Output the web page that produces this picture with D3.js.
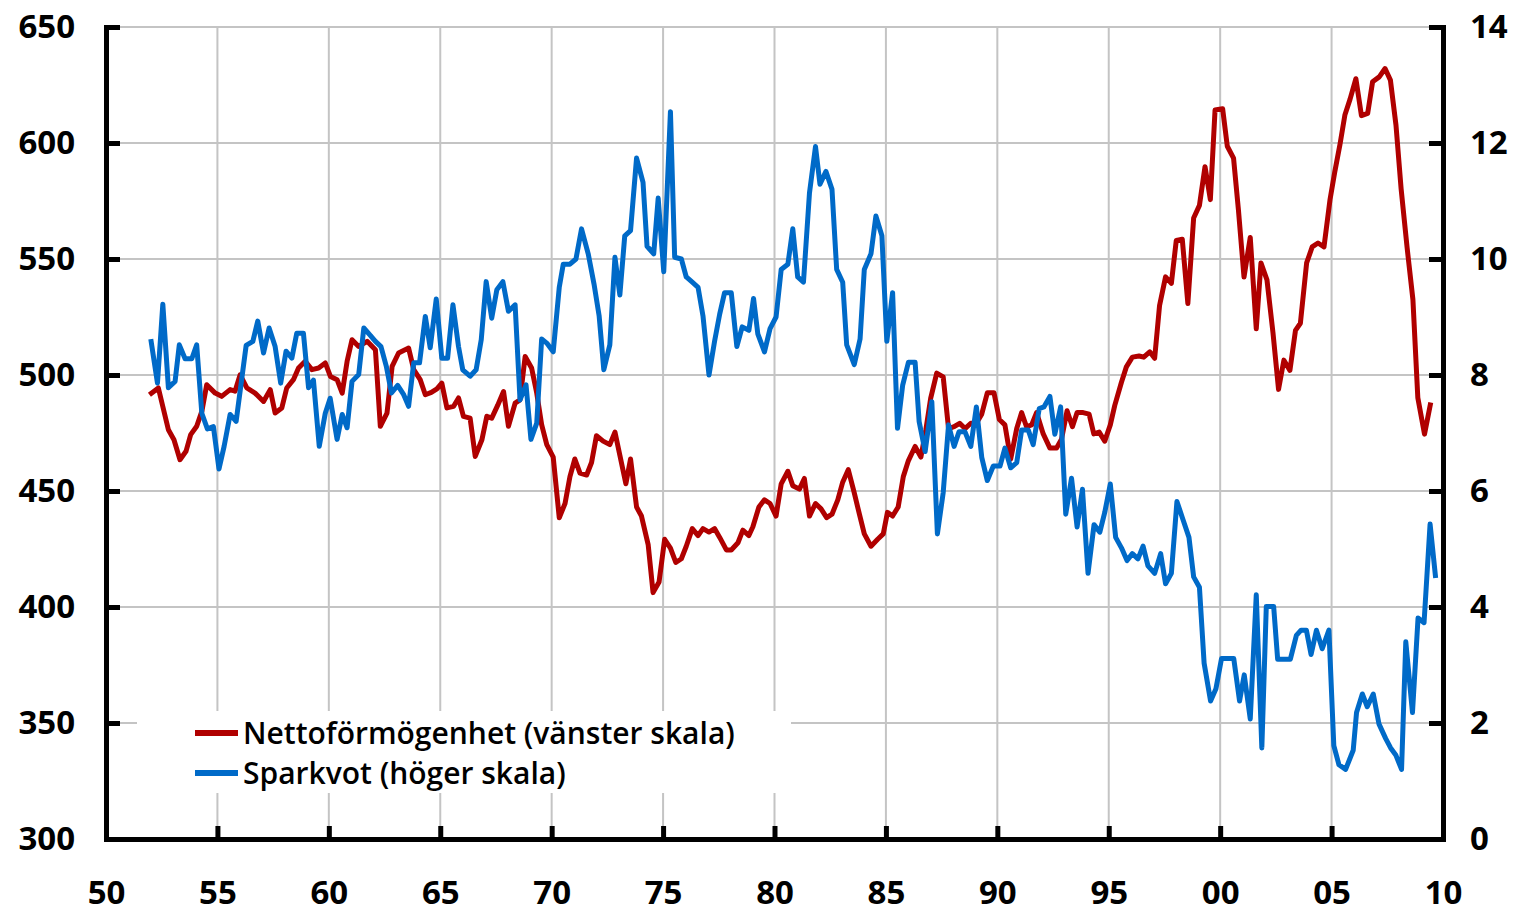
<!DOCTYPE html>
<html>
<head>
<meta charset="utf-8">
<script src="https://cdn.jsdelivr.net/npm/d3@7"></script>
<style>
  body { margin: 0; background: #fff; }
  svg text { font-family: "Open Sans", sans-serif; font-weight: 600; fill: #000; }
</style>
</head>
<body>
<svg id="chart" width="1516" height="911"></svg>
<script>
// Nettoförmögenhet, vänster skala: [år, värde]
var nettoformogenhet = [
  [1951.95, 491.5], [1952.35, 494.4], [1952.80, 476.4], [1953.05, 472.1], [1953.32, 463.5],
  [1953.59, 467.1], [1953.80, 474.3], [1954.07, 477.9], [1954.30, 484.3], [1954.52, 495.8],
  [1954.90, 492.2], [1955.19, 490.8], [1955.57, 493.7], [1955.79, 493.0], [1956.02, 500.1],
  [1956.32, 494.4], [1956.69, 492.2], [1957.07, 488.6], [1957.37, 493.7], [1957.59, 483.6],
  [1957.89, 485.8], [1958.11, 494.4], [1958.41, 498.0], [1958.64, 503.0], [1958.94, 505.9],
  [1959.24, 502.3], [1959.54, 503.0], [1959.84, 505.2], [1960.07, 499.4], [1960.37, 498.0],
  [1960.60, 492.2], [1960.82, 505.9], [1961.04, 515.2], [1961.34, 512.3], [1961.72, 514.5],
  [1962.09, 510.9], [1962.31, 477.9], [1962.61, 483.6], [1962.84, 503.7], [1963.13, 509.5],
  [1963.58, 511.6], [1963.81, 502.3], [1964.10, 498.0], [1964.33, 491.5], [1964.60, 492.5],
  [1964.85, 494.0], [1965.07, 496.5], [1965.30, 485.8], [1965.60, 486.5], [1965.82, 490.1],
  [1966.04, 482.2], [1966.34, 481.4], [1966.57, 464.9], [1966.87, 472.1], [1967.09, 482.2],
  [1967.31, 481.4], [1967.58, 487.0], [1967.84, 492.9], [1968.06, 477.9], [1968.36, 487.9],
  [1968.58, 489.3], [1968.81, 508.0], [1969.10, 503.0], [1969.33, 492.2], [1969.55, 478.6],
  [1969.78, 470.0], [1970.07, 464.6], [1970.34, 438.5], [1970.60, 444.6], [1970.82, 456.2],
  [1971.04, 463.8], [1971.27, 457.7], [1971.57, 456.9], [1971.79, 462.3], [1972.01, 473.8],
  [1972.31, 471.5], [1972.61, 470.0], [1972.84, 475.4], [1973.06, 465.4], [1973.33, 453.1],
  [1973.54, 463.8], [1973.81, 443.1], [1974.03, 439.2], [1974.33, 426.9], [1974.55, 406.2],
  [1974.82, 410.8], [1975.07, 429.2], [1975.33, 425.4], [1975.57, 419.2], [1975.82, 420.8],
  [1976.04, 426.2], [1976.31, 433.8], [1976.57, 430.8], [1976.79, 433.8], [1977.06, 432.3],
  [1977.31, 433.8], [1977.54, 430.0], [1977.84, 424.6], [1978.06, 424.6], [1978.36, 427.7],
  [1978.58, 433.1], [1978.85, 430.8], [1979.03, 434.6], [1979.30, 443.1], [1979.55, 446.2],
  [1979.80, 444.6], [1980.07, 439.2], [1980.30, 453.1], [1980.60, 458.5], [1980.82, 452.3],
  [1981.12, 450.8], [1981.34, 455.4], [1981.57, 439.2], [1981.84, 444.6], [1982.09, 442.3],
  [1982.34, 438.5], [1982.58, 440.0], [1982.84, 446.2], [1983.06, 453.8], [1983.31, 459.2],
  [1983.58, 449.2], [1983.81, 440.0], [1984.03, 431.5], [1984.33, 426.2], [1984.63, 429.2],
  [1984.88, 431.5], [1985.07, 440.8], [1985.30, 439.2], [1985.55, 443.1], [1985.78, 456.2],
  [1986.01, 463.1], [1986.31, 469.2], [1986.57, 464.6], [1986.79, 476.2], [1987.01, 490.0],
  [1987.28, 500.8], [1987.57, 499.2], [1987.81, 476.9], [1988.06, 477.7], [1988.31, 479.2],
  [1988.55, 476.9], [1988.81, 479.2], [1989.06, 479.2], [1989.30, 483.1], [1989.55, 492.3],
  [1989.85, 492.3], [1990.09, 480.8], [1990.34, 478.5], [1990.60, 463.8], [1990.87, 476.9],
  [1991.09, 483.8], [1991.31, 477.7], [1991.54, 478.5], [1991.76, 483.8], [1992.06, 474.6],
  [1992.36, 468.5], [1992.66, 468.5], [1992.88, 472.3], [1993.13, 484.6], [1993.37, 477.7],
  [1993.58, 483.8], [1993.85, 483.8], [1994.12, 483.1], [1994.33, 474.6], [1994.57, 475.4],
  [1994.82, 471.5], [1995.07, 478.5], [1995.27, 486.9], [1995.57, 496.9], [1995.79, 503.5],
  [1996.06, 507.7], [1996.36, 508.2], [1996.57, 507.7], [1996.84, 510.0], [1997.06, 507.2],
  [1997.28, 530.0], [1997.55, 542.3], [1997.81, 539.5], [1998.03, 558.0], [1998.30, 558.5],
  [1998.55, 530.8], [1998.81, 567.7], [1999.07, 573.1], [1999.32, 589.8], [1999.56, 575.6],
  [1999.77, 614.2], [2000.11, 614.8], [2000.32, 598.6], [2000.60, 593.5], [2000.82, 571.1],
  [2001.07, 542.2], [2001.35, 559.3], [2001.62, 519.9], [2001.83, 548.3], [2002.10, 541.0],
  [2002.37, 518.2], [2002.62, 493.8], [2002.86, 506.4], [2003.13, 502.0], [2003.38, 519.2],
  [2003.60, 522.3], [2003.88, 548.3], [2004.13, 555.2], [2004.39, 556.9], [2004.66, 555.2],
  [2004.93, 575.6], [2005.14, 587.4], [2005.38, 599.6], [2005.60, 612.2], [2005.83, 618.9],
  [2006.09, 627.7], [2006.34, 611.8], [2006.62, 612.8], [2006.84, 626.4], [2007.14, 628.5],
  [2007.40, 632.1], [2007.64, 627.1], [2007.89, 607.7], [2008.12, 580.3], [2008.39, 554.8],
  [2008.65, 532.5], [2008.87, 490.2], [2009.17, 474.5], [2009.45, 488.1]
];

// Sparkvot, höger skala: [år, procent]
var sparkvot = [
  [1952.01, 8.62], [1952.31, 7.86], [1952.55, 9.22], [1952.80, 7.78], [1953.10, 7.89],
  [1953.29, 8.52], [1953.55, 8.28], [1953.85, 8.28], [1954.07, 8.52], [1954.30, 7.34],
  [1954.55, 7.07], [1954.82, 7.11], [1955.07, 6.38], [1955.30, 6.77], [1955.57, 7.32],
  [1955.84, 7.20], [1956.29, 8.51], [1956.59, 8.58], [1956.81, 8.93], [1957.07, 8.38],
  [1957.32, 8.81], [1957.59, 8.49], [1957.84, 7.86], [1958.08, 8.41], [1958.34, 8.29],
  [1958.56, 8.72], [1958.86, 8.72], [1959.09, 7.78], [1959.31, 7.91], [1959.57, 6.77],
  [1959.84, 7.34], [1960.06, 7.60], [1960.37, 6.89], [1960.60, 7.32], [1960.82, 7.09],
  [1961.04, 7.89], [1961.34, 8.01], [1961.57, 8.81], [1961.87, 8.68], [1962.09, 8.58],
  [1962.34, 8.49], [1962.58, 8.15], [1962.81, 7.69], [1963.09, 7.82], [1963.36, 7.66],
  [1963.58, 7.46], [1963.81, 8.21], [1964.07, 8.21], [1964.33, 9.01], [1964.55, 8.47],
  [1964.82, 9.31], [1965.07, 8.29], [1965.33, 8.29], [1965.57, 9.21], [1965.82, 8.49],
  [1966.01, 8.09], [1966.34, 7.98], [1966.61, 8.09], [1966.84, 8.61], [1967.06, 9.61],
  [1967.31, 8.98], [1967.54, 9.47], [1967.81, 9.61], [1968.06, 9.10], [1968.36, 9.21],
  [1968.58, 7.57], [1968.85, 7.83], [1969.07, 6.89], [1969.33, 7.17], [1969.55, 8.62],
  [1969.78, 8.55], [1970.07, 8.40], [1970.34, 9.51], [1970.52, 9.91], [1970.82, 9.91],
  [1971.09, 10.00], [1971.34, 10.52], [1971.64, 10.09], [1971.90, 9.57], [1972.13, 9.02],
  [1972.34, 8.09], [1972.61, 8.52], [1972.84, 10.03], [1973.06, 9.38], [1973.28, 10.40],
  [1973.54, 10.49], [1973.81, 11.74], [1974.10, 11.32], [1974.28, 10.22], [1974.58, 10.09],
  [1974.78, 11.05], [1975.03, 9.78], [1975.33, 12.54], [1975.52, 10.03], [1975.82, 10.00],
  [1976.04, 9.69], [1976.31, 9.60], [1976.57, 9.51], [1976.79, 9.02], [1977.06, 8.00],
  [1977.31, 8.58], [1977.54, 9.05], [1977.76, 9.42], [1978.06, 9.42], [1978.31, 8.49],
  [1978.55, 8.83], [1978.85, 8.77], [1979.06, 9.32], [1979.25, 8.71], [1979.55, 8.40],
  [1979.80, 8.80], [1980.07, 9.00], [1980.30, 9.82], [1980.60, 9.91], [1980.82, 10.52],
  [1981.04, 9.69], [1981.30, 9.60], [1981.57, 11.14], [1981.84, 11.94], [1982.04, 11.29],
  [1982.31, 11.51], [1982.58, 11.20], [1982.79, 9.82], [1983.06, 9.60], [1983.24, 8.52],
  [1983.58, 8.18], [1983.84, 8.62], [1984.03, 9.82], [1984.33, 10.09], [1984.55, 10.74],
  [1984.82, 10.40], [1985.04, 8.58], [1985.30, 9.42], [1985.52, 7.08], [1985.75, 7.82],
  [1986.01, 8.22], [1986.31, 8.22], [1986.49, 7.20], [1986.76, 6.68], [1987.06, 7.54],
  [1987.31, 5.26], [1987.57, 5.97], [1987.81, 7.14], [1988.06, 6.77], [1988.28, 7.02],
  [1988.55, 7.02], [1988.81, 6.77], [1989.06, 7.45], [1989.30, 6.58], [1989.55, 6.18],
  [1989.82, 6.43], [1990.12, 6.43], [1990.34, 6.74], [1990.60, 6.40], [1990.87, 6.49],
  [1991.09, 7.05], [1991.39, 7.05], [1991.61, 6.80], [1991.88, 7.42], [1992.09, 7.45],
  [1992.36, 7.63], [1992.58, 6.98], [1992.84, 7.45], [1993.07, 5.60], [1993.33, 6.22],
  [1993.58, 5.38], [1993.82, 6.03], [1994.07, 4.58], [1994.34, 5.42], [1994.60, 5.29],
  [1994.82, 5.63], [1995.07, 6.12], [1995.31, 5.20], [1995.57, 5.02], [1995.82, 4.80],
  [1996.06, 4.92], [1996.31, 4.83], [1996.54, 5.05], [1996.76, 4.71], [1997.06, 4.58],
  [1997.33, 4.92], [1997.55, 4.40], [1997.81, 4.58], [1998.06, 5.82], [1998.33, 5.51],
  [1998.60, 5.20], [1998.81, 4.52], [1999.07, 4.34], [1999.28, 3.03], [1999.57, 2.38],
  [1999.81, 2.59], [2000.06, 3.11], [2000.61, 3.11], [2000.87, 2.38], [2001.08, 2.83],
  [2001.35, 2.07], [2001.62, 4.21], [2001.87, 1.57], [2002.07, 4.01], [2002.40, 4.01],
  [2002.58, 3.10], [2003.15, 3.10], [2003.42, 3.51], [2003.63, 3.60], [2003.87, 3.60],
  [2004.08, 3.18], [2004.32, 3.60], [2004.58, 3.28], [2004.88, 3.60], [2005.10, 1.61],
  [2005.33, 1.28], [2005.63, 1.20], [2005.97, 1.53], [2006.12, 2.18], [2006.38, 2.50],
  [2006.60, 2.28], [2006.87, 2.50], [2007.13, 1.98], [2007.43, 1.73], [2007.65, 1.57],
  [2007.88, 1.45], [2008.14, 1.20], [2008.33, 3.40], [2008.63, 2.18], [2008.88, 3.81],
  [2009.15, 3.73], [2009.42, 5.43], [2009.67, 4.50]
];

var yearTicks = d3.range(1950, 2011, 5);
var leftTicks = d3.range(300, 651, 50);
var rightTicks = d3.range(0, 15, 2);
var legendItems = [
  { label: "Nettoförmögenhet (vänster skala)", color: "#b00000" },
  { label: "Sparkvot (höger skala)", color: "#006ac8" }
];

var svg = d3.select("#chart");
var plot = { left: 106, right: 1443, top: 27, bottom: 839 };

var x = d3.scaleLinear().domain([1950, 2010]).range([plot.left, plot.right]);
var yL = d3.scaleLinear().domain([300, 650]).range([plot.bottom, plot.top]);
var yR = d3.scaleLinear().domain([0, 14]).range([plot.bottom, plot.top]);

// rutnät
var grid = svg.append("g").attr("stroke", "#c4c4c4").attr("stroke-width", 2);
grid.selectAll("line.h")
  .data(leftTicks.filter(function (d) { return d > 300; }))
  .enter().append("line")
  .attr("x1", plot.left).attr("x2", plot.right)
  .attr("y1", function (d) { return yL(d); })
  .attr("y2", function (d) { return yL(d); });
grid.selectAll("line.v")
  .data(yearTicks.filter(function (d) { return d > 1950 && d < 2010; }))
  .enter().append("line")
  .attr("y1", plot.top).attr("y2", plot.bottom)
  .attr("x1", function (d) { return x(d); })
  .attr("x2", function (d) { return x(d); });

// legendens vita ruta döljer rutnätet
svg.append("rect")
  .attr("x", 137).attr("y", 711)
  .attr("width", 654).attr("height", 82)
  .attr("fill", "#fff");

var line = function (scale) {
  return d3.line()
    .x(function (d) { return x(d[0]); })
    .y(function (d) { return scale(d[1]); });
};

svg.append("path")
  .datum(nettoformogenhet)
  .attr("fill", "none")
  .attr("stroke", legendItems[0].color)
  .attr("stroke-width", 5)
  .attr("stroke-linejoin", "round")
  .attr("d", line(yL));

svg.append("path")
  .datum(sparkvot)
  .attr("fill", "none")
  .attr("stroke", legendItems[1].color)
  .attr("stroke-width", 5)
  .attr("stroke-linejoin", "round")
  .attr("d", line(yR));

// axlar
function styleAxis(g) {
  g.selectAll("path, line").attr("stroke", "#000").attr("stroke-width", 5);
  g.select(".domain").attr("stroke-linecap", "square");
  g.selectAll("text").attr("font-size", 33).attr("fill", "#000").style("font-weight", 700);
  g.attr("font-family", null);
}

svg.append("g")
  .attr("transform", "translate(" + plot.left + ",0)")
  .call(d3.axisLeft(yL).tickValues(leftTicks).tickSize(-14).tickSizeOuter(0).tickPadding(31).tickFormat(d3.format("d")))
  .call(styleAxis);

svg.append("g")
  .attr("transform", "translate(" + plot.right + ",0)")
  .call(d3.axisRight(yR).tickValues(rightTicks).tickSize(-14).tickSizeOuter(0).tickPadding(27).tickFormat(d3.format("d")))
  .call(styleAxis);

svg.append("g")
  .attr("transform", "translate(0," + plot.bottom + ")")
  .call(d3.axisBottom(x).tickValues(yearTicks).tickSize(-13).tickSizeOuter(0).tickPadding(42)
    .tickFormat(function (d) { return d3.format("02d")(d % 100); }))
  .call(styleAxis);

// legend
var legend = svg.append("g").selectAll("g")
  .data(legendItems)
  .enter().append("g")
  .attr("transform", function (d, i) { return "translate(195," + (733 + i * 40) + ")"; });

legend.append("line")
  .attr("x1", 0).attr("x2", 43)
  .attr("stroke", function (d) { return d.color; })
  .attr("stroke-width", 6);

legend.append("text")
  .attr("x", 48)
  .attr("dy", "0.36em")
  .attr("font-size", 30)
  .text(function (d) { return d.label; });
</script>
</body>
</html>
